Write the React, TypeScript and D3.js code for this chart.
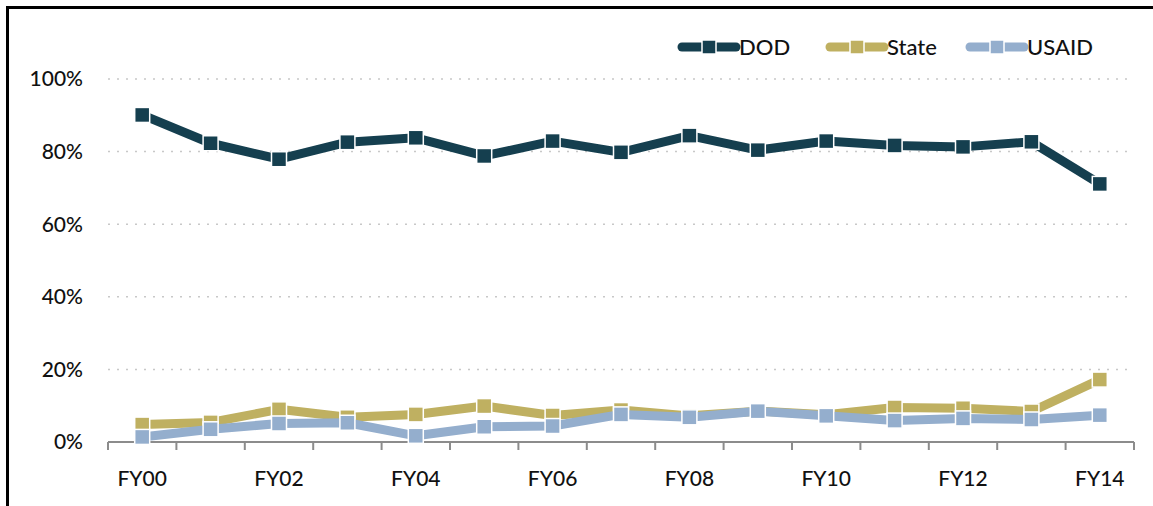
import * as d3 from 'd3';

const years = ['FY00', 'FY01', 'FY02', 'FY03', 'FY04', 'FY05', 'FY06', 'FY07', 'FY08', 'FY09', 'FY10', 'FY11', 'FY12', 'FY13', 'FY14'];
const dod = [90.1, 82.3, 77.9, 82.6, 83.8, 78.8, 82.9, 79.8, 84.4, 80.4, 82.9, 81.7, 81.3, 82.7, 71.1];
const state = [4.8, 5.4, 9.0, 6.8, 7.6, 9.9, 7.3, 8.8, 7.2, 8.5, 7.5, 9.5, 9.3, 8.4, 17.2];
const usaid = [1.4, 3.5, 5.1, 5.3, 1.7, 4.2, 4.4, 7.6, 6.8, 8.5, 7.2, 5.9, 6.5, 6.2, 7.4];
const yTicks = [0, 20, 40, 60, 80, 100];
const xLabels = ['FY00', 'FY02', 'FY04', 'FY06', 'FY08', 'FY10', 'FY12', 'FY14'];

const series = [
  { name: 'DOD', values: dod, color: '#153f4f' },
  { name: 'State', values: state, color: '#bfb061' },
  { name: 'USAID', values: usaid, color: '#94aecd' },
];

const W = 1153;
const H = 506;
const font = 'Lato, "Open Sans", sans-serif';

export default function App() {
  const x = d3.scaleBand<string>().domain(years).range([108, 1134]);
  const y = d3.scaleLinear().domain([0, 100]).range([442, 79]);
  const cx = (d: string) => (x(d) ?? 0) + x.bandwidth() / 2;
  const line = d3.line<number>()
    .x((_, i) => cx(years[i]))
    .y((v) => y(v));

  const boundaries = years.map((d) => x(d) ?? 0).concat([x.range()[1]]);
  const legendX = [680, 828, 968];

  return (
    <svg width={W} height={H} style={{ position: 'absolute', left: 0, top: 0, background: '#fff' }}>
      {/* frame: left and top only */}
      <path d={`M7.5,${H} V7.5 H${W}`} fill="none" stroke="#000" strokeWidth={3} />

      {/* grid */}
      {yTicks.filter((t) => t > 0).map((t) => (
        <line key={t} x1={108} x2={1134} y1={y(t)} y2={y(t)} stroke="#c8c8c8" strokeWidth={1.5} strokeDasharray="2 7" />
      ))}
      {yTicks.map((t) => (
        <text key={t} x={83} y={y(t)} dy="0.35em" textAnchor="end" fontFamily={font} fontSize={21} fontWeight={500} fill="#111">
          {t}%
        </text>
      ))}

      {/* x axis */}
      <line x1={108} x2={1134} y1={y(0)} y2={y(0)} stroke="#8c8c8c" strokeWidth={2} />
      {boundaries.map((b, i) => (
        <line key={i} x1={b} x2={b} y1={y(0)} y2={y(0) + 8} stroke="#8c8c8c" strokeWidth={2} />
      ))}
      {xLabels.map((l) => (
        <text key={l} x={cx(l)} y={486} textAnchor="middle" fontFamily={font} fontSize={21} fontWeight={500} fill="#111">
          {l}
        </text>
      ))}

      {/* series */}
      {series.map((s) => (
        <g key={s.name}>
          <path d={line(s.values) ?? ''} fill="none" stroke={s.color} strokeWidth={9} strokeLinejoin="round" />
          {s.values.map((v, i) => (
            <rect key={i} x={cx(years[i]) - 7.5} y={y(v) - 7.5} width={15} height={15} fill={s.color} stroke="#fff" strokeWidth={1.5} />
          ))}
        </g>
      ))}

      {/* legend */}
      {series.map((s, i) => (
        <g key={s.name} transform={`translate(${legendX[i]},47)`}>
          <line x1={2} x2={56} y1={0} y2={0} stroke={s.color} strokeWidth={9} strokeLinecap="round" />
          <rect x={22} y={-7} width={14} height={14} fill={s.color} stroke="#fff" strokeWidth={1.5} />
          <text x={59} y={0} dy="0.35em" fontFamily={font} fontSize={22} fontWeight={500} fill="#111">{s.name}</text>
        </g>
      ))}
    </svg>
  );
}
